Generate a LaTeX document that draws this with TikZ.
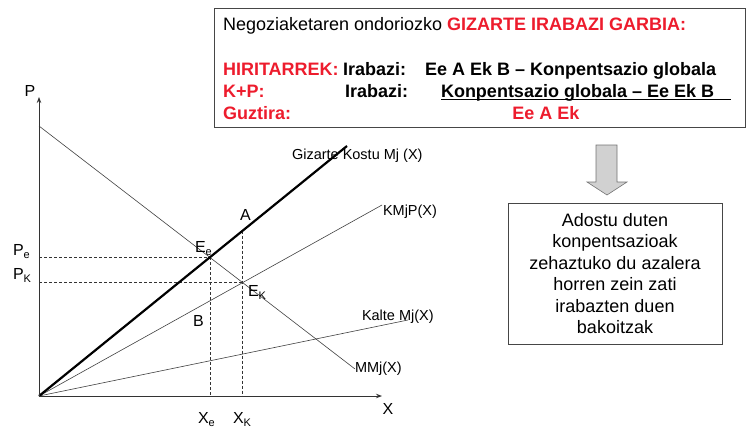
\documentclass[tikz,border=0pt]{standalone}
\usepackage{fontspec}
\setmainfont{Liberation Sans}
\usetikzlibrary{arrows.meta}
\usetikzlibrary{positioning}
\usetikzlibrary{calc}
\usetikzlibrary{intersections}
\definecolor{gbred}{RGB}{237,28,45}
\definecolor{edgegray}{RGB}{70,70,70}
\newcommand{\lowsub}[1]{\raisebox{-3.5pt}{\fontsize{11}{11}\selectfont #1}}
\newcommand{\ptlabel}[3]{\node(#1)[ptlab] at (#2) {#3}}

\begin{document}
\begin{tikzpicture}[
        x=1pt, y=-1pt,
        every node/.style={inner sep=0pt, outer sep=0pt},
        big/.style={font=\fontsize{16}{19}\selectfont},
        ptlab/.style={big, anchor=base west},
        curvelab/.style={font=\fontsize{14.5}{17}\selectfont, anchor=base west},
        boxline/.style={font=\fontsize{18}{21}\selectfont, anchor=base west},
        axis/.style={draw=black!80, line width=0.9pt, -{Stealth[length=6pt,width=4.5pt]}},
        thin curve/.style={draw=black!75, line width=0.6pt},
        thick curve/.style={draw=black, line width=2.2pt},
        guide/.style={draw=black!80, line width=0.6pt, dash pattern=on 3pt off 2pt},
        infoframe/.style={draw=edgegray, line width=0.8pt}
      ]
  \useasboundingbox (0,0) rectangle (754,439);

  \draw[infoframe] (214,8) rectangle (745,127);
  \node(head)[boxline] at (223,30) {Negoziaketaren ondoriozko \textcolor{gbred}{\textbf{GIZARTE IRABAZI GARBIA:}}};
  \node(hir)[boxline, text=gbred] at (223,75) {\textbf{HIRITARREK:}};
  \node(hirir)[boxline] at (343,75) {\textbf{Irabazi:}};
  \node(hirval)[boxline] at (425,75) {\textbf{Ee A Ek B – Konpentsazio globala}};
  \node(kp)[boxline, text=gbred] at (223,97) {\textbf{K+P:}};
  \node(kpir)[boxline] at (345,97) {\textbf{Irabazi:}};
  \node(kpval)[boxline] at (441,97) {\textbf{Konpentsazio globala – Ee Ek B}};
  \draw[line width=0.9pt] ($(kpval.base west)+(0,2.5)$) -- ($(kpval.base east)+(17,2.5)$);
  \node(guz)[boxline, text=gbred] at (223,119) {\textbf{Guztira:}};
  \node(guzval)[boxline, anchor=base, text=gbred] at (546,119) {\textbf{Ee A Ek}};

  \filldraw[fill=black!18, draw=black!55, line width=0.6pt] (596,145) -- (617,145) -- (617,182) -- (627,182)
    -- (607,195) -- (587,182) -- (596,182) -- cycle;
  \node(note)[infoframe, minimum width=214pt, minimum height=141pt, align=center,
    font=\fontsize{18}{21.4}\selectfont] at (615,273.5)
    {Adostu duten\\konpentsazioak\\zehaztuko du azalera\\horren zein zati\\irabazten duen\\bakoitzak};

  \coordinate (O) at (39,396);
  \coordinate (ytop) at (39,97);
  \coordinate (xend) at (382,396);
  \coordinate (mm0) at (39,126);
  \coordinate (mm1) at (355,369);
  \coordinate (gk1) at (347,146);
  \coordinate (kp1) at (382,205);
  \coordinate (ka1) at (408,320);

  \path[name path=mmj] (mm0) -- (mm1);
  \path[name path=kmjp] (O) -- (kp1);
  \path[name path=gizarte] (O) -- (gk1);
  \path[name intersections={of=mmj and gizarte, by=Ee}];
  \path[name intersections={of=mmj and kmjp, by=Ek}];
  \path[name path=vk] (Ek) -- (Ek |- ytop);
  \path[name intersections={of=vk and gizarte, by=A}];

  \draw[guide] (Ee -| O) -- (Ee);
  \draw[guide] (Ek -| O) -- (Ek);
  \draw[guide] (Ee) -- (Ee |- O);
  \draw[guide] (A) -- (A |- O);

  \draw[thin curve] (mm0) -- (mm1);
  \draw[thin curve] (O) -- (ka1);
  \draw[thin curve] (O) -- (kp1);
  \draw[thick curve] (O) -- (gk1);
  \draw[axis] (O) -- (ytop);
  \draw[axis] (O) -- (xend);

  \node(P)[big] at (30,91) {P};
  \node(X)[big] at (388,409) {X};
  \ptlabel{Pe}{13,255}{P\lowsub{e}};
  \ptlabel{PK}{13,279}{P\lowsub{K}};
  \ptlabel{Xe}{198,423}{X\lowsub{e}};
  \ptlabel{XK}{233,423}{X\lowsub{K}};
  \ptlabel{Eelab}{195,252}{E\lowsub{e}};
  \ptlabel{Eklab}{248,296}{E\lowsub{K}};
  \ptlabel{Alab}{240,220}{A};
  \ptlabel{Blab}{193,326}{B};

  \node(gklab)[curvelab] at (292,159) {Gizarte Kostu Mj (X)};
  \node(kplab)[curvelab] at (383,215) {KMjP(X)};
  \node(kalab)[curvelab] at (362,320) {Kalte Mj(X)};
  \node(mmlab)[curvelab] at (355,372) {MMj(X)};
\end{tikzpicture}
\end{document}
